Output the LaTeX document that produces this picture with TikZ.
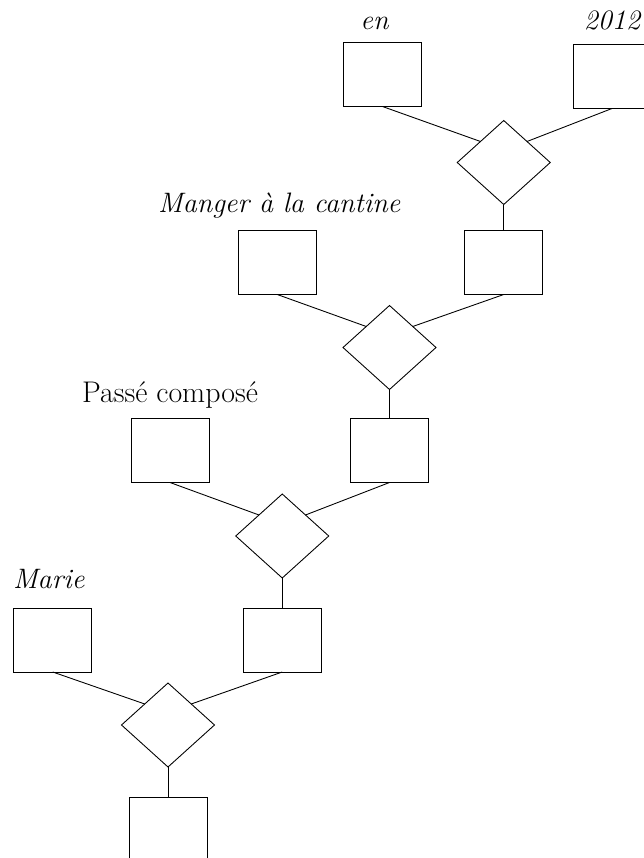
\documentclass[tikz,border=0pt]{standalone}
\usepackage{tikz}
\usetikzlibrary{positioning,shapes.geometric}

\begin{document}
\begin{tikzpicture}[font=\fontsize{16}{19}\selectfont,
    box/.style={draw,minimum width=1.56cm,minimum height=1.28cm,inner sep=0pt,outer sep=0pt},
    rel/.style={draw,diamond,minimum width=1.86cm,minimum height=1.68cm,inner sep=0pt,outer sep=0pt},
    lbl/.style={inner sep=0pt,outer sep=0pt,text depth=0pt},
    line width=0.5pt]
  \useasboundingbox (-3.32,-0.58) rectangle (9.54,16.58);
  % bottom level
  \node[box] (B0) at (0.04,0) {};
  \node[rel, above=0.6cm of B0] (D4) {};
  \node[box, above left=0.64cm and 1.06cm of D4] (L4) {};
  \node[box, above right=0.64cm and 1.04cm of D4] (R4) {};
  % third level
  \node[rel, above=0.6cm of R4] (D3) {};
  \node[box, above left=0.65cm and 1.0cm of D3] (L3) {};
  \node[box, above right=0.65cm and 0.9cm of D3] (R3) {};
  % second level
  \node[rel, above=0.58cm of R3] (D2) {};
  \node[box, above left=0.64cm and 1.0cm of D2] (L2) {};
  \node[box, above right=0.64cm and 1.04cm of D2] (R2) {};
  % top level
  \node[rel, above=0.52cm of R2] (D1) {};
  \node[box, above left=0.7cm and 1.18cm of D1] (L1) {};
  \node[box, above right=0.66cm and 0.92cm of D1] (R1) {};
  % labels
  \node[lbl, above=0.4cm of L4, xshift=-0.08cm] (tMarie) {\itshape Marie};
  \node[lbl, above=0.32cm of L3, font=\fontsize{17}{20}\selectfont] (tPasse) {Passé composé};
  \node[lbl, above=0.36cm of L2, xshift=0.04cm] (tCantine) {\itshape Manger à la cantine};
  \node[lbl, above=0.26cm of L1, xshift=-0.16cm] (tEn) {\itshape en};
  \node[lbl, above=0.3cm of R1] (tYear) {\itshape 2012};
  % links
  \draw (L4.south) -- (D4.north west);
  \draw (R4.south) -- (D4.north east);
  \draw (D4) -- (B0);
  \draw (L3.south) -- (D3.north west);
  \draw (R3.south) -- (D3.north east);
  \draw (D3) -- (R4);
  \draw (L2.south) -- (D2.north west);
  \draw (R2.south) -- (D2.north east);
  \draw (D2) -- (R3);
  \draw (L1.south) -- (D1.north west);
  \draw (R1.south) -- (D1.north east);
  \draw (D1) -- (R2);
\end{tikzpicture}
\end{document}
